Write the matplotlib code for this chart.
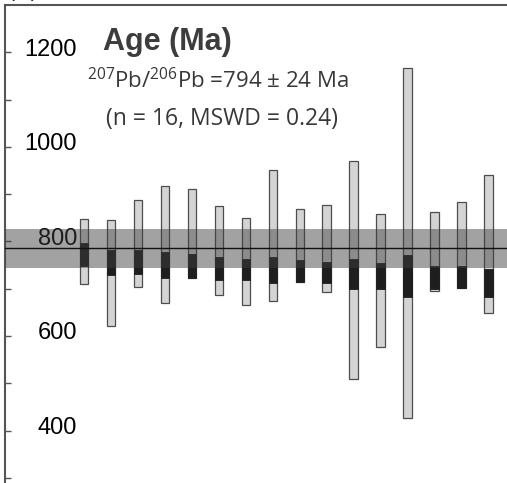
import numpy as np
import matplotlib.pyplot as plt
import matplotlib.transforms as mtransforms

plt.rcParams['mathtext.fontset'] = 'custom'
plt.rcParams['mathtext.rm'] = 'Open Sans'

# spot number and age ranges (Ma)
spot = np.arange(1, 17)
outer_hi = [847, 845, 888, 917, 911, 875, 850, 950, 869, 876, 970, 858, 1167, 862, 884, 940]
outer_lo = [709, 621, 704, 670, 723, 687, 665, 674, 715, 692, 508, 577, 426, 696, 702, 649]
inner_hi = [797, 782, 781, 778, 773, 766, 762, 766, 761, 757, 762, 754, 771, 749, 748, 741]
inner_lo = [748, 729, 730, 723, 723, 718, 718, 713, 715, 711, 699, 699, 682, 700, 702, 683]

mean_age = 785.5
band_lo, band_hi = 743.5, 827
ytick_major = [400, 600, 800, 1000, 1200]
ytick_minor = [300, 500, 700, 900, 1100]

fig = plt.figure(figsize=(5.07, 4.83), dpi=100)
ax = fig.add_axes([5/507, 0, 502/507, 478/483])

w = 0.333
hi = np.array(outer_hi); lo = np.array(outer_lo)
ax.bar(spot, hi - lo, bottom=lo, width=w, color='#d4d4d4', edgecolor='#4d4d4d', linewidth=0.9, zorder=2)
ihi = np.array(inner_hi); ilo = np.array(inner_lo)
ax.bar(spot, ihi - ilo, bottom=ilo, width=w, color='#1e1e1e', edgecolor='#1e1e1e', linewidth=0.6, zorder=3)

ax.axhspan(band_lo, band_hi, color='#3e3e3e', alpha=0.48, lw=0, zorder=4)
ax.axhline(mean_age, color='#111111', lw=1.0, zorder=5)

ax.set_xlim(-1.926, 16.667)
ax.set_ylim(289, 1300)
ax.set_xticks([])
ax.set_yticks(ytick_major)
ax.set_yticks(ytick_minor, minor=True)
ax.set_yticklabels([str(v) for v in ytick_major])
ax.tick_params(axis='y', which='both', direction='in', length=4, width=1, color='#555555',
               labelsize=17, pad=-52)
for lbl in ax.get_yticklabels():
    lbl.set_fontfamily('Liberation Sans')
    lbl.set_transform(lbl.get_transform() + mtransforms.ScaledTranslation(0, 5/100, fig.dpi_scale_trans))

for s in ['right', 'bottom']:
    ax.spines[s].set_visible(False)
for s in ['left', 'top']:
    ax.spines[s].set_color('#555555')
    ax.spines[s].set_linewidth(1.5)

ax.text(98/502, 1 - 45/478, 'Age (Ma)', transform=ax.transAxes, fontsize=22, fontweight='bold',
        family='Liberation Sans', color='#3d3d3d', va='baseline')
ax.text(213/502, 1 - 83/478, r'$^{\mathrm{207}}$Pb/$^{\mathrm{206}}$Pb =794 ± 24 Ma', transform=ax.transAxes,
        fontsize=16, family='Open Sans', color='#383838', va='baseline', ha='center')
ax.text(217/502, 1 - 120/478, '(n = 16, MSWD = 0.24)', transform=ax.transAxes,
        fontsize=16.5, family='Open Sans', color='#383838', va='baseline', ha='center')

fig.text(7/507, 1 + 2/483, '(a)', fontsize=16, va='baseline', color='#222222')

fig.savefig('out.png', dpi=100)
